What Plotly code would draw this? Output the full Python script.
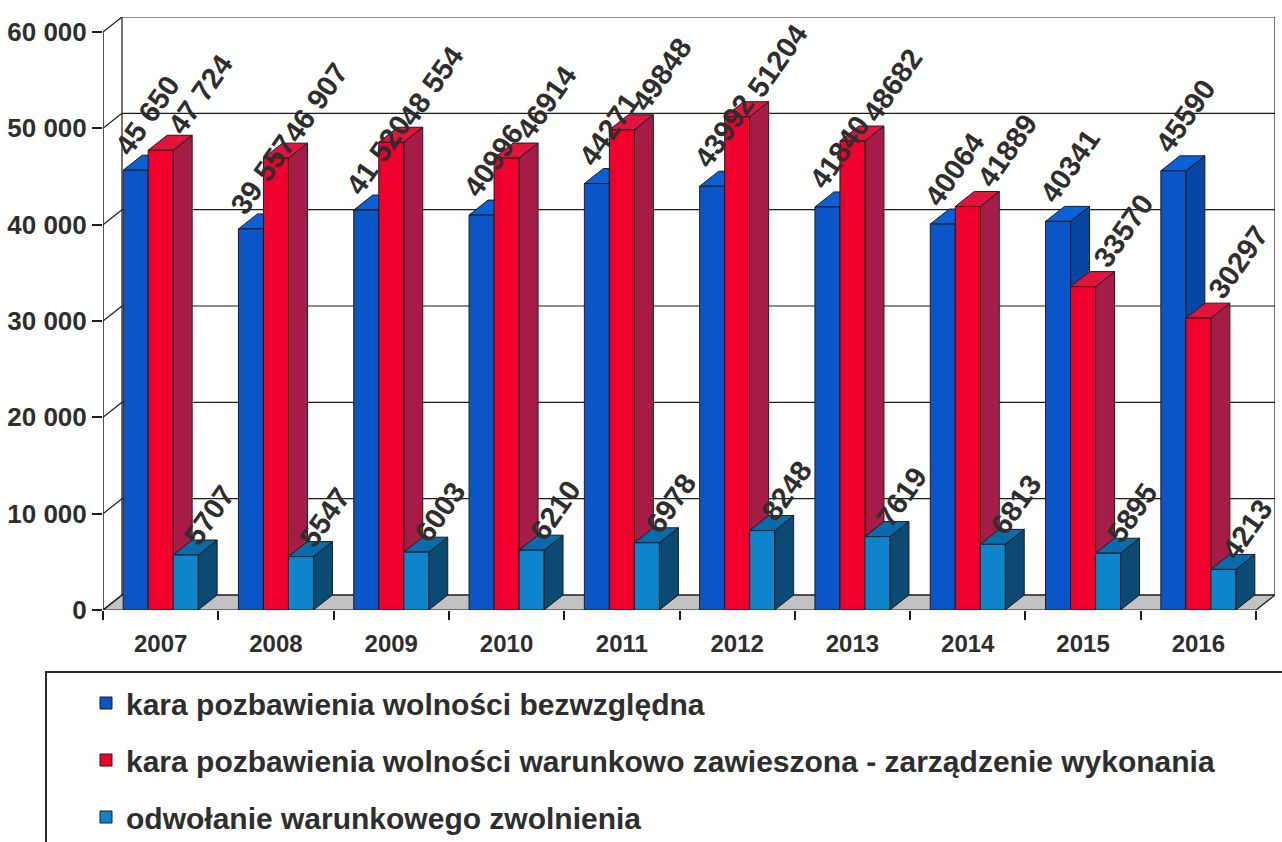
import plotly.graph_objects as go

# ---------------- data ----------------
years = ["2007", "2008", "2009", "2010", "2011", "2012", "2013", "2014", "2015", "2016"]
series_names = [
    "kara pozbawienia wolności bezwzględna",
    "kara pozbawienia wolności warunkowo zawieszona - zarządzenie wykonania",
    "odwołanie warunkowego zwolnienia",
]
bezwzgledna = [45650, 39557, 41520, 40996, 44271, 43992, 41840, 40064, 40341, 45590]
zawieszona = [47724, 46907, 48554, 46914, 49848, 51204, 48682, 41889, 33570, 30297]
odwolanie = [5707, 5547, 6003, 6210, 6978, 8248, 7619, 6813, 5895, 4213]

labels_bezwzgledna = ["45 650", "39 557", "41 520", "40996", "44271", "43992", "41840", "40064", "40341", "45590"]
labels_zawieszona = ["47 724", "46 907", "48 554", "46914", "49848", "51204", "48682", "41889", "33570", "30297"]
labels_odwolanie = ["5707", "5547", "6003", "6210", "6978", "8248", "7619", "6813", "5895", "4213"]

y_tickvals = [0, 10000, 20000, 30000, 40000, 50000, 60000]
y_ticktext = ["0", "10 000", "20 000", "30 000", "40 000", "50 000", "60 000"]

# ---------------- styling / geometry ----------------
FRONT = ["#0A55C8", "#F2002D", "#0E84CC"]
SIDE = ["#0647A6", "#A61C47", "#0B4A73"]
TOP = ["#0A60D4", "#E2143D", "#0A6BAA"]
EDGE = "#1c1c1c"
TXT = "#2e2e2e"
FONT = "Liberation Sans, Arial, sans-serif"

W_PX, H_PX = 1282, 842
L_M, R_M, T_M, B_M = 103, 7, 17, 232
PLOT_W = W_PX - L_M - R_M
PLOT_H = H_PX - T_M - B_M
DEPTH_X_PX, DEPTH_Y_PX = 19, 15
CAT_PX = (PLOT_W - DEPTH_X_PX) / 10
DX = DEPTH_X_PX / CAT_PX
Y_TOP = 60000 / (1 - DEPTH_Y_PX / PLOT_H)
DY = DEPTH_Y_PX * Y_TOP / PLOT_H
BW = 25 / CAT_PX

all_vals = [bezwzgledna, zawieszona, odwolanie]
all_labels = [labels_bezwzgledna, labels_zawieszona, labels_odwolanie]
idx = list(range(len(years)))

fig = go.Figure()

# 3-D side and top faces (drawn below the front faces)
for s, vals in enumerate(all_vals):
    off = -1.5 * BW + s * BW
    sx, sy, tx, ty = [], [], [], []
    for i, v in zip(idx, vals):
        xl = i + off
        xr = xl + BW
        sx += [xr, xr + DX, xr + DX, xr, xr, None]
        sy += [0, DY, v + DY, v, 0, None]
        tx += [xl, xl + DX, xr + DX, xr, xl, None]
        ty += [v, v + DY, v + DY, v, v, None]
    fig.add_trace(go.Scatter(x=sx, y=sy, mode="lines", fill="toself", fillcolor=SIDE[s],
                             line=dict(color=EDGE, width=1), showlegend=False, hoverinfo="skip"))
    fig.add_trace(go.Scatter(x=tx, y=ty, mode="lines", fill="toself", fillcolor=TOP[s],
                             line=dict(color=EDGE, width=1), showlegend=False, hoverinfo="skip"))

# front faces
for s, vals in enumerate(all_vals):
    fig.add_trace(go.Bar(
        x=idx, y=vals, width=BW, offset=-1.5 * BW + s * BW,
        name=series_names[s], legendgroup=str(s),
        marker=dict(color=FRONT[s], line=dict(color=EDGE, width=1)),
        xaxis="x2", yaxis="y2",
    ))

# walls, floor, gridlines
shapes = []
x_left, x_right = -0.5, len(years) - 0.5
shapes.append(dict(type="path", xref="x", yref="y", layer="below",
                   path=f"M{x_left},0 L{x_right},0 L{x_right+DX},{DY} L{x_left+DX},{DY} Z",
                   fillcolor="#C2C2C2", line=dict(color=EDGE, width=1.2)))
shapes.append(dict(type="rect", xref="x", yref="y", layer="below",
                   x0=x_left + DX, x1=x_right + DX, y0=DY, y1=60000 + DY,
                   line=dict(color=EDGE, width=1.2)))
for v in y_tickvals[1:-1]:
    shapes.append(dict(type="line", xref="x", yref="y", layer="below",
                       x0=x_left + DX, x1=x_right + DX, y0=v + DY, y1=v + DY,
                       line=dict(color=EDGE, width=1.2)))
for v in y_tickvals:
    shapes.append(dict(type="line", xref="x", yref="y", layer="below",
                       x0=x_left, x1=x_left + DX, y0=v, y1=v + DY,
                       line=dict(color=EDGE, width=1.2)))
shapes.append(dict(type="line", xref="x", yref="y", layer="below",
                   x0=x_left, x1=x_left, y0=0, y1=60000, line=dict(color=EDGE, width=1.5)))
# legend frame (extends past the page edges as in the original)
shapes.append(dict(type="rect", xref="paper", yref="paper",
                   x0=(46 - L_M) / PLOT_W, x1=1.05,
                   y0=-0.6, y1=-(672 - (H_PX - B_M)) / PLOT_H,
                   line=dict(color="#2a2a2a", width=2), fillcolor="rgba(0,0,0,0)"))

# data labels (rotated, centred above each bar)
XSH = [12, 40, 24]
YSH = [55, 56, 40]
annotations = []
for s, (vals, labs) in enumerate(zip(all_vals, all_labels)):
    off = -1.5 * BW + s * BW + BW / 2
    for i, v, t in zip(idx, vals, labs):
        annotations.append(dict(x=i + off, y=v, xref="x2", yref="y2", text=t,
                                textangle=-55, xanchor="center", yanchor="middle",
                                xshift=XSH[s], yshift=YSH[s], showarrow=False,
                                font=dict(family=FONT, size=29, color=TXT, weight="bold")))

fig.update_layout(
    width=W_PX, height=H_PX,
    margin=dict(l=L_M, r=R_M, t=T_M, b=B_M, autoexpand=False),
    paper_bgcolor="white", plot_bgcolor="white",
    barmode="overlay",
    shapes=shapes, annotations=annotations,
    xaxis=dict(range=[x_left, x_right + DX], tickmode="array", tickvals=idx, ticktext=years,
               ticks="", showgrid=False, zeroline=False, showline=False,
               tickfont=dict(family=FONT, size=24, color=TXT, weight="bold"),
               ticklabelstandoff=17,
               minor=dict(tickmode="array", tickvals=[i + 0.5 for i in range(-1, len(years))],
                          ticks="outside", ticklen=9, tickwidth=1.5, tickcolor=EDGE, showgrid=False)),
    yaxis=dict(range=[0, Y_TOP], tickmode="array", tickvals=y_tickvals, ticktext=y_ticktext,
               ticks="outside", ticklen=10, tickwidth=1.5, tickcolor=EDGE,
               showgrid=False, zeroline=False, showline=False,
               tickfont=dict(family=FONT, size=26, color=TXT, weight="bold")),
    xaxis2=dict(range=[x_left, x_right + DX], overlaying="x", anchor="y2", visible=False),
    yaxis2=dict(range=[0, Y_TOP], overlaying="y", anchor="x2", visible=False),
    legend=dict(x=(86 - L_M) / PLOT_W, y=-(677 - (H_PX - B_M)) / PLOT_H,
                xanchor="left", yanchor="top", orientation="v", traceorder="grouped",
                tracegroupgap=15, bgcolor="rgba(0,0,0,0)",
                font=dict(family=FONT, size=30, color=TXT, weight="bold")),
)

fig.write_html("out.html", config={"displayModeBar": False},
               post_script="document.body.style.margin='0';")
